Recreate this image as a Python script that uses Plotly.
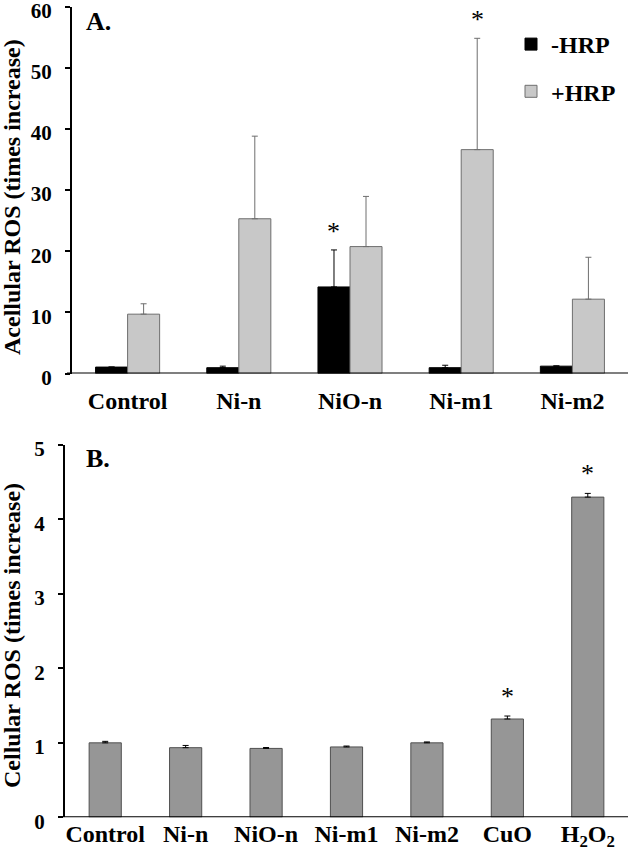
import plotly.graph_objects as go

# Panel A data
cats_a = ["Control", "Ni-n", "NiO-n", "Ni-m1", "Ni-m2"]
minus_hrp = [1.05, 0.95, 14.15, 0.95, 1.2]
minus_hrp_err = [0.0, 0.25, 6.05, 0.4, 0.05]
plus_hrp = [9.7, 25.3, 20.75, 36.6, 12.15]
plus_hrp_err = [1.7, 13.5, 8.2, 18.2, 6.85]
sig_a = [("NiO-n", "minus"), ("Ni-m1", "plus")]

# Panel B data
cats_b = ["Control", "Ni-n", "NiO-n", "Ni-m1", "Ni-m2", "CuO", "H2O2"]
ticks_b = ["Control", "Ni-n", "NiO-n", "Ni-m1", "Ni-m2", "CuO", "H<sub>2</sub>O<sub>2</sub>"]
cell_ros = [1.0, 0.935, 0.925, 0.945, 1.0, 1.32, 4.3]
cell_ros_err = [0.02, 0.03, 0.012, 0.012, 0.012, 0.04, 0.05]
sig_b = ["CuO", "H2O2"]

FONT = "Liberation Serif"
W_A = 0.288
W_B = 0.40

fig = go.Figure()

fig.add_trace(go.Bar(
    x=cats_a, y=minus_hrp, name="-HRP", legendgroup="g1",
    marker=dict(color="#000000", line=dict(color="#000000", width=1)),
    width=W_A, offset=-W_A,
    error_y=dict(type="data", array=minus_hrp_err, arrayminus=[0]*len(cats_a), symmetric=False,
                 color="#000000", thickness=1, width=3),
    xaxis="x", yaxis="y"))
fig.add_trace(go.Bar(
    x=cats_a, y=plus_hrp, name="+HRP", legendgroup="g2",
    marker=dict(color="#c8c8c8", line=dict(color="#6e6e6e", width=1)),
    width=W_A, offset=0,
    error_y=dict(type="data", array=plus_hrp_err, arrayminus=[0]*len(cats_a), symmetric=False,
                 color="#6e6e6e", thickness=1, width=3),
    xaxis="x", yaxis="y"))

fig.add_trace(go.Bar(
    x=cats_b, y=cell_ros, showlegend=False,
    marker=dict(color="#969696", line=dict(color="#505050", width=1)),
    width=W_B, offset=-W_B/2,
    error_y=dict(type="data", array=cell_ros_err, arrayminus=[0]*len(cats_b), symmetric=False,
                 color="#000000", thickness=1, width=3),
    xaxis="x2", yaxis="y2"))

annotations = []
for cat, grp in sig_a:
    i = cats_a.index(cat)
    if grp == "minus":
        top = minus_hrp[i] + minus_hrp_err[i]
        xs = -W_A / 2
    else:
        top = plus_hrp[i] + plus_hrp_err[i]
        xs = W_A / 2
    annotations.append(dict(x=i + xs, y=top, xref="x", yref="y", text="*", showarrow=False,
                            yanchor="bottom", yshift=2,
                            font=dict(family=FONT, size=26, color="black")))
for cat in sig_b:
    i = cats_b.index(cat)
    top = cell_ros[i] + cell_ros_err[i]
    annotations.append(dict(x=i, y=top, xref="x2", yref="y2", text="*", showarrow=False,
                            yanchor="bottom", yshift=3,
                            font=dict(family=FONT, size=26, color="black")))

annotations += [
    dict(text="<b>A.</b>", x=84/628, y=1-22/859, xref="paper", yref="paper", xanchor="left", yanchor="middle",
         showarrow=False, font=dict(family=FONT, size=26, color="black")),
    dict(text="<b>B.</b>", x=84/628, y=1-458/859, xref="paper", yref="paper", xanchor="left", yanchor="middle",
         showarrow=False, font=dict(family=FONT, size=26, color="black")),
    dict(text="<b>Acellular ROS (times increase)</b>", x=12/628, y=1-197/859, xref="paper", yref="paper",
         textangle=-90, xanchor="center", yanchor="middle", showarrow=False,
         font=dict(family=FONT, size=24, color="black")),
    dict(text="<b>Cellular ROS (times increase)</b>", x=12/628, y=1-636/859, xref="paper", yref="paper",
         textangle=-90, xanchor="center", yanchor="middle", showarrow=False,
         font=dict(family=FONT, size=24, color="black")),
]

xax_common = dict(showline=False, ticks="", showgrid=False, zeroline=False, automargin=False,
                  ticklabeloverflow="allow",
                  tickfont=dict(family=FONT, size=24, color="black", weight="bold"))
yax_common = dict(showline=True, linecolor="black", linewidth=2, ticks="outside", ticklen=5,
                  tickwidth=1.5, tickcolor="black", showgrid=False, zeroline=False, automargin=False,
                  ticklabeloverflow="allow", ticklabelshift=4, ticklabelstandoff=9,
                  tickfont=dict(family=FONT, size=21, color="black", weight="bold"))

fig.update_layout(
    template="none",
    width=628, height=859, margin=dict(l=0, r=0, t=0, b=0, pad=0),
    paper_bgcolor="white", plot_bgcolor="white",
    font=dict(family=FONT, color="black"),
    barmode="group",
    xaxis=dict(domain=[72/628, 1], anchor="y", ticklabelstandoff=10, **xax_common),
    yaxis=dict(domain=[1-373.5/859, 1-6.5/859], anchor="x", range=[0, 60], tickvals=[0, 10, 20, 30, 40, 50, 60],
               **yax_common),
    xaxis2=dict(domain=[65/628, 1], anchor="y2", ticktext=ticks_b, tickvals=cats_b, ticklabelstandoff=0,
                **xax_common),
    yaxis2=dict(domain=[1-817.3/859, 1-445/859], anchor="x2", range=[0, 5], tickvals=[0, 1, 2, 3, 4, 5],
                **yax_common),
    legend=dict(x=511/628, y=1-22/859, xanchor="left", yanchor="top", bgcolor="rgba(0,0,0,0)",
                tracegroupgap=13, font=dict(family=FONT, size=24, color="black", weight="bold")),
    annotations=annotations,
    shapes=[
        dict(type="line", xref="paper", yref="y", x0=67/628, x1=1, y0=0, y1=0,
             line=dict(color="black", width=2)),
        dict(type="line", xref="paper", yref="y2", x0=59/628, x1=1, y0=0, y1=0,
             line=dict(color="black", width=2)),
    ],
)

fig.write_html("out.html", config={"displayModeBar": False},
               post_script="document.body.style.margin='0';document.body.style.overflow='hidden';")
